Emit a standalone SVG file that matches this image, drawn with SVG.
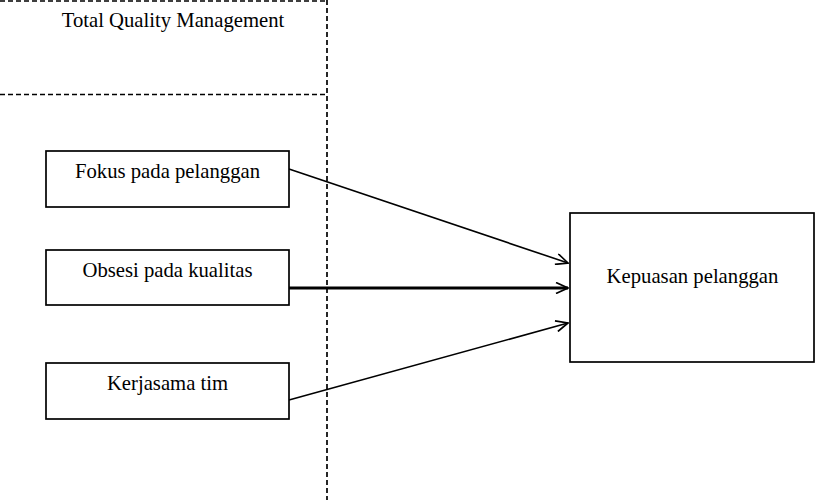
<svg xmlns="http://www.w3.org/2000/svg" width="815" height="500" viewBox="0 0 815 500">
<style>
  .box{fill:#fff;stroke:#000;stroke-width:1.7}
  .lbl{font-family:"Liberation Serif","Times New Roman",serif;font-size:20.7px;fill:#000;text-anchor:middle}
  .dash{fill:none;stroke:#000;stroke-width:1.7;stroke-dasharray:5 3}
  .conn{fill:none;stroke:#000;stroke-width:1.6}
  .thick{stroke-width:2.8}
</style>
<defs>
  <marker id="arr" viewBox="0 0 14 12" refX="13" refY="6" markerWidth="14" markerHeight="12" markerUnits="userSpaceOnUse" orient="auto">
    <path d="M1 0.5 L13 6 L1 11.5" fill="none" stroke="#000" stroke-width="1.7"/>
  </marker>
</defs>
<rect width="815" height="500" fill="#fff"/>
<g id="tqm-frame">
  <line class="dash" x1="0" y1="1" x2="327" y2="1"/>
  <line class="dash" x1="0" y1="94.5" x2="327" y2="94.5"/>
  <line class="dash" x1="327" y1="0" x2="327" y2="500"/>
  <text class="lbl" x="173" y="27">Total Quality Management</text>
</g>
<g id="connectors">
  <line class="conn" x1="289" y1="169" x2="568" y2="263" marker-end="url(#arr)"/>
  <line class="conn thick" x1="289" y1="288" x2="568" y2="288" marker-end="url(#arr)"/>
  <line class="conn" x1="289" y1="400" x2="568" y2="323" marker-end="url(#arr)"/>
</g>
<g id="fokus">
  <rect class="box" x="46" y="151" width="243" height="56"/>
  <text class="lbl" x="167.5" y="178">Fokus pada pelanggan</text>
</g>
<g id="obsesi">
  <rect class="box" x="46" y="250" width="243" height="55"/>
  <text class="lbl" x="167.5" y="277">Obsesi pada kualitas</text>
</g>
<g id="kerjasama">
  <rect class="box" x="46" y="363" width="243" height="56"/>
  <text class="lbl" x="167.5" y="390">Kerjasama tim</text>
</g>
<g id="kepuasan">
  <rect class="box" x="570" y="213" width="244" height="149"/>
  <text class="lbl" x="692.5" y="283">Kepuasan pelanggan</text>
</g>
</svg>
